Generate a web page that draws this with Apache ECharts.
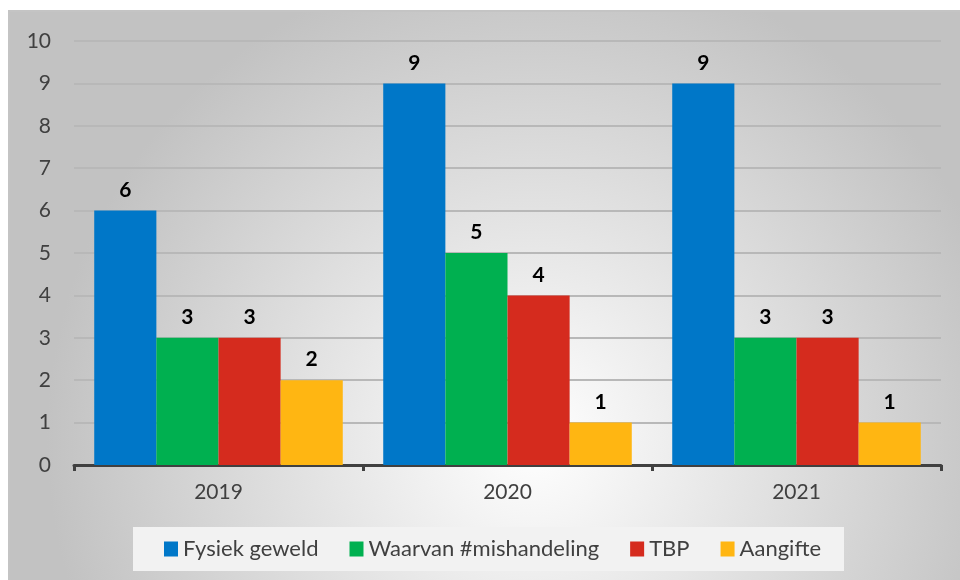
<!DOCTYPE html>
<html>
<head>
<meta charset="utf-8">
<script src="https://cdn.jsdelivr.net/npm/echarts@6/dist/echarts.min.js"></script>
<style>
  html, body { margin: 0; padding: 0; background: #fff; }
  #chart { width: 960px; height: 580px; }
</style>
</head>
<body>
<div id="chart"></div>
<script>
const years = ['2019', '2020', '2021']
const fysiekGeweld = [6, 9, 9]
const mishandeling = [3, 5, 3]
const tbp = [3, 4, 3]
const aangifte = [2, 1, 1]

const chart = echarts.init(document.getElementById('chart'), null, { renderer: 'canvas' })

const labelStyle = {
  show: true,
  position: 'top',
  distance: 10,
  color: '#000',
  fontWeight: 'bold',
  fontSize: 21,
  fontFamily: 'Lato',
}

function bar(name, data, color) {
  return {
    name,
    type: 'bar',
    data,
    barGap: '0%',
    barCategoryGap: '14%',
    itemStyle: { color },
    label: labelStyle,
  }
}

chart.setOption({
  animation: false,
  textStyle: { fontFamily: 'Lato' },
  graphic: [
    {
      type: 'rect',
      z: -10,
      silent: true,
      shape: { x: 9, y: 11, width: 952, height: 570 },
      style: {
        fill: new echarts.graphic.RadialGradient(0.55, 0.75, 0.85, [
          { offset: 0, color: '#ffffff' },
          { offset: 1, color: '#c2c2c2' },
        ]),
        stroke: '#c4c4c4',
        lineWidth: 2,
      },
    },
  ],
  grid: { left: 74, right: 19, top: 41, bottom: 115 },
  legend: {
    left: 133,
    top: 527,
    padding: [11, 23, 11, 31],
    backgroundColor: '#f2f2f2',
    itemWidth: 14,
    itemHeight: 15,
    itemGap: 31,
    icon: 'rect',
    textStyle: { color: '#404040', fontSize: 22, fontFamily: 'Lato' },
    data: ['Fysiek geweld', 'Waarvan #mishandeling', 'TBP', 'Aangifte'],
  },
  xAxis: {
    type: 'category',
    data: years,
    axisLine: { lineStyle: { color: '#404040', width: 3 } },
    axisTick: { show: true, length: 6, lineStyle: { color: '#404040', width: 3 } },
    axisLabel: { color: '#404040', fontSize: 21, margin: 17 },
  },
  yAxis: {
    type: 'value',
    min: 0,
    max: 10,
    interval: 1,
    axisLine: { show: false },
    axisTick: { show: false },
    axisLabel: { color: '#404040', fontSize: 21, margin: 23 },
    splitLine: { lineStyle: { color: '#b8b8b8', width: 2 } },
  },
  series: [
    bar('Fysiek geweld', fysiekGeweld, '#0077c8'),
    bar('Waarvan #mishandeling', mishandeling, '#00b050'),
    bar('TBP', tbp, '#d52b1e'),
    bar('Aangifte', aangifte, '#ffb612'),
  ],
})
</script>
</body>
</html>
